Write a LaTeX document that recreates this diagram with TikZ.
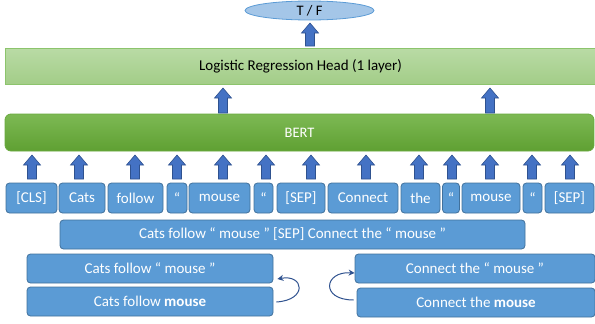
\documentclass[tikz,border=0pt]{standalone}
\usepackage{fontspec}
\setmainfont{Carlito}
\usetikzlibrary{arrows.meta,shapes.geometric,calc}
\definecolor{tokfill}{HTML}{5B9BD5}
\definecolor{tokdraw}{HTML}{41719C}
\definecolor{arrfill}{HTML}{4472C4}
\definecolor{arrdraw}{HTML}{2F528F}
\definecolor{elfill}{HTML}{A4C6E8}
\definecolor{eldraw}{HTML}{5B9BD5}
\definecolor{lrtop}{HTML}{B9DBA5}
\definecolor{lrbot}{HTML}{A3CD88}
\definecolor{lrdraw}{HTML}{8CC46C}
\definecolor{btop}{HTML}{7DB954}
\definecolor{bbot}{HTML}{5FA032}
\definecolor{bdraw}{HTML}{6AAA3F}
\tikzset{
  tok/.style={draw=tokdraw, fill=tokfill, line width=0.8pt, rounded corners=3.5pt, text=white, inner sep=0pt, minimum height=30pt, font=\fontsize{15}{17}\selectfont},
  sent/.style={tok, minimum height=29pt},
  blockarrow/.style={fill=arrfill, draw=arrdraw, line width=0.6pt, line join=miter},
  curv/.style={draw=arrdraw, line width=1pt, -{Stealth[length=6pt,width=6pt]}},
}
\newcommand\blockup[3]{%
  \filldraw[blockarrow] (#1-4.5,#3) -- (#1+4.5,#3) -- (#1+4.5,#2+10) -- (#1+8.5,#2+10) -- (#1,#2) -- (#1-8.5,#2+10) -- (#1-4.5,#2+10) -- cycle;}
\begin{document}
\begin{tikzpicture}[x=1pt,y=-1pt]
\useasboundingbox (0,0) rectangle (595,324);
% top ellipse
\node[ellipse, draw=eldraw, fill=elfill, line width=0.8pt, minimum width=129pt, minimum height=19pt, inner sep=0pt, font=\fontsize{14.5}{16}\selectfont] (tf) at (309.5,10.5) {T / F};
% LRH
\node[draw=lrdraw, line width=0.8pt, top color=lrtop, bottom color=lrbot, minimum width=591pt, minimum height=36pt, inner sep=0pt, font=\fontsize{15}{17}\selectfont] (lrh) at (300.5,66) {Logistic Regression Head (1 layer)};
% BERT
\node[draw=bdraw, line width=0.8pt, top color=btop, bottom color=bbot, rounded corners=6pt, minimum width=589pt, minimum height=37pt, inner sep=0pt, text=white, font=\fontsize{14.5}{16}\selectfont] (bert) at (299.5,132.5) {BERT};
% arrows
\blockup{310}{23}{46}
\blockup{223}{88}{113}
\blockup{490}{88}{113}
\foreach \x in {32,79,135,177,223,266,311,366,419,452,490,532,570} {\blockup{\x}{155}{179}}
% tokens
\node[tok, minimum width=51pt] (t1) at (31.5,198) {[CLS]};
\node[tok, minimum width=46pt] (t2) at (82,198) {Cats};
\node[tok, minimum width=55pt] (t3) at (135.5,198) {follow};
\node[tok, minimum width=20pt] (t4) at (177,198) {“};
\node[tok, minimum width=61pt] (t5) at (219.5,198) {mouse};
\node[tok, minimum width=19pt] (t6) at (263.5,198) {“};
\node[tok, minimum width=48pt] (t7) at (301,198) {[SEP]};
\node[tok, minimum width=70pt] (t8) at (363,198) {Connect};
\node[tok, minimum width=39pt] (t9) at (420.5,198) {the};
\node[tok, minimum width=17pt] (t10) at (451,198) {“};
\node[tok, minimum width=58pt] (t11) at (491,198) {mouse};
\node[tok, minimum width=19pt] (t12) at (532.5,198) {“};
\node[tok, minimum width=49pt] (t13) at (569.5,198) {[SEP]};
% sentences
\node[sent, minimum width=465pt] (pair) at (292.5,234.5) {Cats follow “ mouse ” [SEP] Connect the “ mouse ”};
\node[sent, minimum width=246pt] (ltop) at (150,268.5) {Cats follow “ mouse ”};
\node[sent, minimum width=246pt] (lbot) at (150,301.5) {Cats follow \textbf{mouse}};
\node[sent, minimum width=240pt] (rtop) at (475,268.5) {Connect the “ mouse ”};
\node[sent, minimum width=238pt] (rbot) at (476,302.5) {Connect the \textbf{mouse}};
% curved arrows
\coordinate (ls) at ($(lbot.east)+(3,0.5)$);
\coordinate (le) at ($(ltop.east)+(4,10.5)$);
\draw[curv] (ls) .. controls (308,300) and (304,274) .. (le);
\coordinate (rs) at ($(rbot.west)+(-3,-2.5)$);
\coordinate (re) at ($(rtop.west)+(0,4.5)$);
\draw[curv] (rs) .. controls (320,300) and (324,271) .. (re);
\end{tikzpicture}
\end{document}
